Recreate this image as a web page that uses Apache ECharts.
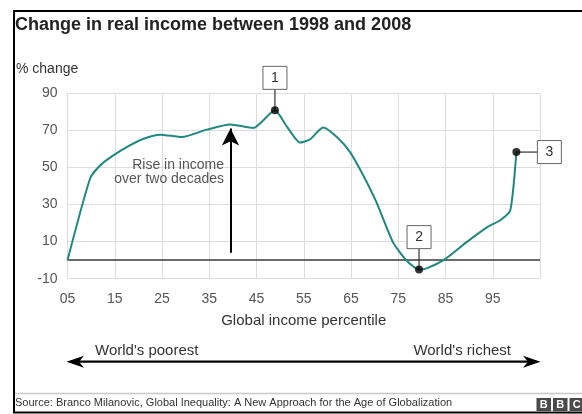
<!DOCTYPE html>
<html>
<head>
<meta charset="utf-8">
<script src="https://cdn.jsdelivr.net/npm/echarts@6/dist/echarts.min.js"></script>
<style>
html,body{margin:0;padding:0;background:#fff;}
#chart{width:582px;height:414px;}
</style>
</head>
<body>
<div id="chart"></div>
<script>
// ---- data ----
const titleText = 'Change in real income between 1998 and 2008';
const yAxisTitle = '% change';
const xAxisTitle = 'Global income percentile';
const sourceText = 'Source: Branco Milanovic, Global Inequality: A New Approach for the Age of Globalization';
const percentile = [5, 9.8, 11.9, 14.7, 17.9, 21.1, 24.6, 29.2, 34.5, 39.4, 44.3, 48.9, 51.4, 54.2, 56.3, 59.1, 62.0, 64.8, 67.6, 70.4, 73.9, 76.8, 79.4, 81.0, 84.9, 89.4, 94.0, 96.5, 98.7, 100];
const change = [0, 44.2, 51.1, 56.5, 61.5, 65.5, 67.7, 66.4, 70.4, 73.2, 71.3, 80.8, 72.2, 63.4, 65.1, 71.5, 66.4, 58.3, 45.7, 31.2, 9.6, -0.3, -5.1, -4.4, 0.6, 9.6, 18.1, 21.4, 26.8, 58.3];
const xTickValues = [5, 15, 25, 35, 45, 55, 65, 75, 85, 95];
const xTickLabels = ['05', '15', '25', '35', '45', '55', '65', '75', '85', '95'];
const xGridValues = [5, 15, 25, 35, 45, 55, 65, 75, 85, 95, 105];
const yTickValues = [-10, 10, 30, 50, 70, 90];
const annotationLabels = ['1', '2', '3'];
const annotationIndex = [11, 22, 29];
const riseText = 'Rise in income\nover two decades';
const riseArrow = { percentile: 39.5, from: 4, to: 71 };
const poorestText = "World's poorest";
const richestText = "World's richest";

const FONT = '"Liberation Sans", Arial, Helvetica, sans-serif';
const chart = echarts.init(document.getElementById('chart'), null, { renderer: 'canvas' });

const option = {
  animation: false,
  backgroundColor: '#ffffff',
  textStyle: { fontFamily: FONT },
  grid: { left: 67.5, right: 42, top: 93.3, bottom: 135.3, containLabel: false },
  xAxis: {
    type: 'value', min: 5, max: 105,
    axisLine: { show: false },
    axisTick: { show: false, customValues: xGridValues },
    splitLine: { show: true, lineStyle: { color: '#dddddd', width: 1 } },
    axisLabel: {
      customValues: xTickValues,
      formatter: function (v) { const i = xTickValues.indexOf(v); return i >= 0 ? xTickLabels[i] : ''; },
      color: '#555', fontSize: 14, fontFamily: FONT, margin: 13
    },
    name: xAxisTitle, nameLocation: 'middle', nameGap: 35,
    nameTextStyle: { color: '#333', fontSize: 15, fontFamily: FONT }
  },
  yAxis: {
    type: 'value', min: -10, max: 90,
    axisLine: { show: false },
    axisTick: { show: false, customValues: yTickValues },
    splitLine: { show: true, lineStyle: { color: '#dddddd', width: 1 } },
    axisLabel: { customValues: yTickValues, color: '#555', fontSize: 14, fontFamily: FONT, margin: 10 }
  },
  series: [
    {
      type: 'line',
      data: percentile.map((p, i) => [p, change[i]]),
      smooth: 0.2,
      showSymbol: false,
      lineStyle: { color: '#21887f', width: 2 },
      z: 5,
      markLine: {
        silent: true, symbol: 'none', animation: false,
        label: { show: false },
        lineStyle: { color: '#3a3a3a', width: 1.5, type: 'solid' },
        data: [{ yAxis: 0 }]
      }
    },
    {
      type: 'line',
      data: [],
      markLine: {
        silent: true, animation: false,
        symbol: ['none', 'arrow'], symbolSize: [13, 17],
        label: { show: false },
        lineStyle: { color: '#000', width: 2, type: 'solid' },
        data: [[{ coord: [riseArrow.percentile, riseArrow.from] }, { coord: [riseArrow.percentile, riseArrow.to] }]]
      }
    },
    {
      type: 'scatter',
      data: annotationIndex.map(i => [percentile[i], change[i]]),
      symbolSize: 8,
      itemStyle: { color: '#000' },
      z: 20
    }
  ]
};
chart.setOption(option);

// ---- decorations & annotation boxes (positions via library scales) ----
const graphics = [];
// frame
graphics.push({ type: 'rect', shape: { x: 14, y: 11, width: 620, height: 401.5 }, style: { fill: 'none', stroke: '#000', lineWidth: 2 }, z: 50, silent: true });
// title
graphics.push({ type: 'text', x: 15, y: 25.5, style: { text: titleText, fill: '#222', font: 'bold 18px ' + FONT, textVerticalAlign: 'middle' } });
graphics.push({ type: 'text', x: 16, y: 69.5, style: { text: yAxisTitle, fill: '#333', font: '14px ' + FONT, textVerticalAlign: 'middle' } });
// rise text
graphics.push({ type: 'text', x: 224, y: 171.7, style: { text: riseText, fill: '#555', font: '14px ' + FONT, textAlign: 'right', textVerticalAlign: 'middle', lineHeight: 14 } });
// bottom arrow
graphics.push({ type: 'line', shape: { x1: 75, y1: 361.7, x2: 532, y2: 361.7 }, style: { stroke: '#000', lineWidth: 2.2 } });
graphics.push({ type: 'polygon', shape: { points: [[66.5, 361.7], [84, 355.7], [79, 361.7], [84, 367.7]] }, style: { fill: '#000' } });
graphics.push({ type: 'polygon', shape: { points: [[540.5, 361.7], [523, 355.7], [528, 361.7], [523, 367.7]] }, style: { fill: '#000' } });
graphics.push({ type: 'text', x: 95, y: 351, style: { text: poorestText, fill: '#333', font: '15px ' + FONT, textVerticalAlign: 'middle' } });
graphics.push({ type: 'text', x: 511, y: 351, style: { text: richestText, fill: '#333', font: '15px ' + FONT, textAlign: 'right', textVerticalAlign: 'middle' } });
// footer
graphics.push({ type: 'line', shape: { x1: 14, y1: 393.5, x2: 582, y2: 393.5 }, style: { stroke: '#c8c8c8', lineWidth: 1.5 } });
graphics.push({ type: 'text', x: 15, y: 402.5, style: { text: sourceText, fill: '#333', font: '11px ' + FONT, textVerticalAlign: 'middle' } });
['B', 'B', 'C'].forEach((ch, k) => {
  const bx = 536.5 + k * 16.5;
  graphics.push({ type: 'rect', shape: { x: bx, y: 398, width: 14.5, height: 13 }, style: { fill: '#4a4a4a' } });
  graphics.push({ type: 'text', x: bx + 7.25, y: 404.8, style: { text: ch, fill: '#fff', font: 'bold 11px ' + FONT, textAlign: 'center', textVerticalAlign: 'middle' } });
});
// annotation boxes
annotationIndex.forEach((idx, k) => {
  const pt = chart.convertToPixel({ gridIndex: 0 }, [percentile[idx], change[idx]]);
  const w = 24, h = 23, gap = 21;
  let bx, by, line;
  if (k < 2) {
    bx = pt[0] - w / 2; by = pt[1] - gap - h;
    line = { x1: pt[0], y1: pt[1], x2: pt[0], y2: by + h };
  } else {
    bx = pt[0] + gap; by = pt[1] - h / 2;
    line = { x1: pt[0], y1: pt[1], x2: bx, y2: pt[1] };
  }
  graphics.push({ type: 'line', shape: line, style: { stroke: '#333', lineWidth: 1.2 }, z: 8 });
  graphics.push({ type: 'rect', shape: { x: bx, y: by, width: w, height: h }, style: { fill: '#fff', stroke: '#666', lineWidth: 1 }, z: 9 });
  graphics.push({ type: 'text', x: bx + w / 2, y: by + h / 2 + 0.5, style: { text: annotationLabels[k], fill: '#333', font: '14px ' + FONT, textAlign: 'center', textVerticalAlign: 'middle' }, z: 10 });
});
chart.setOption({ graphic: graphics });
</script>
</body>
</html>
